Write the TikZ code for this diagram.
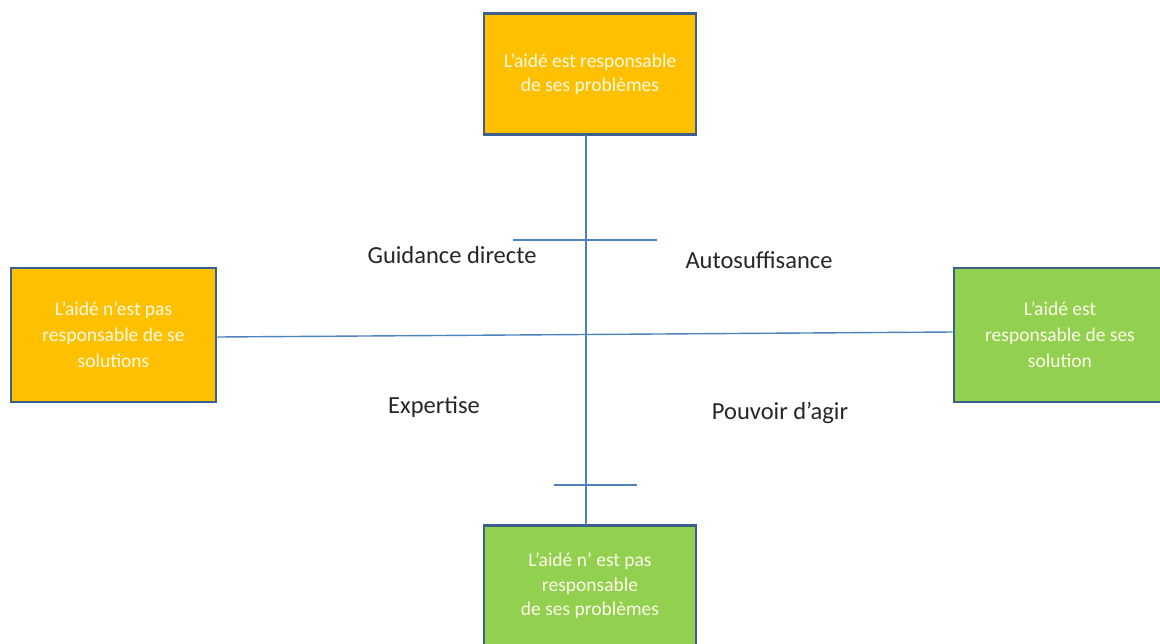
\documentclass[tikz,border=0pt]{standalone}
\usepackage{fontspec}
\setmainfont{Carlito}
\usetikzlibrary{calc}
\definecolor{boxorange}{HTML}{FFC000}
\definecolor{boxgreen}{HTML}{92D050}
\definecolor{boxborder}{HTML}{3D5F8C}
\definecolor{axisblue}{HTML}{4F81BD}
\definecolor{boxtext}{HTML}{FFFBEA}
\begin{document}
\begin{tikzpicture}[x=1pt,y=-1pt,
  box/.style={draw=boxborder,line width=2.6pt,minimum width=212pt,minimum height=121pt,
    inner sep=0pt,align=center,text=boxtext,font=\fontsize{19.5}{24.5}\selectfont},
  sidebox/.style={box,minimum height=134pt,font=\fontsize{19.5}{26}\selectfont},
  axis/.style={draw=axisblue,line width=1.4pt},
  lab/.style={font=\fontsize{24.5}{26}\selectfont,text=black!85}]
\useasboundingbox (0,0) rectangle (1160,643);
\node[box,fill=boxorange] (T) at (590,74) {L’aidé est responsable\\de ses problèmes};
\node[sidebox,fill=boxorange,minimum width=205pt] (L) at (113.5,335) {L’aidé n’est pas\\responsable de se\\solutions};
\node[sidebox,fill=boxgreen] (R) at (1060,335) {L’aidé est\\responsable de ses\\solution};
\node[box,fill=boxgreen] (B) at (590,586) {L’aidé n’ est pas\\responsable\\de ses problèmes};
\coordinate (Tb) at (586,135);
\coordinate (Bt) at (586,525);
\coordinate (t1a) at (513,240);
\coordinate (t1b) at (657,240);
\coordinate (t2a) at (554,485);
\coordinate (t2b) at (637,485);
\draw[axis] (Tb) -- (Bt);
\draw[axis] ($(L.east)+(0,2)$) -- ($(R.west)+(0,-3)$);
\draw[axis] (t1a) -- (t1b);
\draw[axis] (t2a) -- (t2b);
\node[lab] (g) at (452,255) {Guidance directe};
\node[lab] (a) at (759,260) {Autosuffisance};
\node[lab] (e) at (434,407) {Expertise};
\node[lab] (p) at (780,413) {Pouvoir d’agir};
\end{tikzpicture}
\end{document}
